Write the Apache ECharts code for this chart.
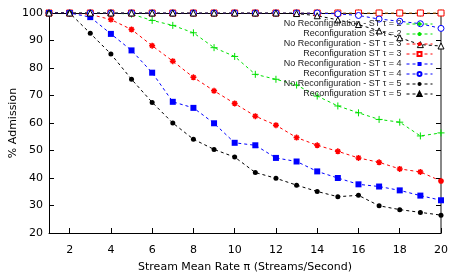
<!DOCTYPE html>
<html><head><meta charset="utf-8">
<script src="https://cdn.jsdelivr.net/npm/echarts@6/dist/echarts.min.js"></script>
<style>html,body{margin:0;padding:0;background:#fff}#c{width:457px;height:274px}</style>
</head><body><div id="c"></div>
<script>
const xValues = [1,2,3,4,5,6,7,8,9,10,11,12,13,14,15,16,17,18,19,20];
const xTicks = [2,4,6,8,10,12,14,16,18,20];
const noReconf2 = [100,100,100,100,99.6,97.3,95.5,92.8,87.4,84.2,77.7,75.9,73.8,69.8,66.2,63.7,61.3,60.3,55.3,56.4];
const reconf2   = [100,100,100,100,100,100,100,100,100,100,100,100,100,100,100,100,100,100,100,100];
const noReconf3 = [100,100,99.5,97.6,94.0,88.1,82.5,76.6,71.7,67.1,62.5,59.2,54.7,51.9,49.7,47.3,45.7,43.3,42.2,38.9];
const reconf3   = [100,100,100,100,100,100,100,100,100,100,100,100,100,100,100,100,100,100,100,100];
const noReconf4 = [100,100,98.5,92.4,86.4,78.3,67.7,65.5,59.9,52.8,51.9,47.3,46.0,42.4,40.0,37.7,36.9,35.5,33.6,31.9];
const reconf4   = [100,100,100,100,100,100,100,100,100,100,100,100,100,100,99.7,99.1,97.8,97.0,96.1,94.4];
const noReconf5 = [100,100,92.6,85.1,75.9,67.5,60.0,54.1,50.4,47.6,42.0,39.9,37.4,35.1,33.2,33.7,29.9,28.5,27.5,26.5];
const reconf5   = [100,100,100,100,100,100,100,100,100,100,100,100,99.8,99.0,97.5,95.8,93.5,91.0,88.5,88.0];
const names = ['No Reconfiguration - ST τ = 2','Reconfiguration ST τ = 2','No Reconfiguration - ST τ = 3','Reconfiguration ST τ = 3','No Reconfiguration - ST τ = 4','Reconfiguration ST τ = 4','No Reconfiguration - ST τ = 5','Reconfiguration ST τ = 5'];

const GREEN = '#00e000', RED = '#ff0000', BLUE = '#0000ff', BLACK = '#000000';
const PLUS = 'path://M0,5L10,5M5,0L5,10';
const STAR = 'path://M0,5L10,5M5,0L5,10M1.5,1.5L8.5,8.5M8.5,1.5L1.5,8.5';
function pair(a){ return xValues.map((x,i)=>[x,a[i]]); }
function mk(name, data, color, symbol, size, fill, stroke){
  return {
    name, type:'line', data: pair(data), symbol, symbolSize:size,
    lineStyle:{color, width:1, type:[3,3]},
    itemStyle:{color: fill, borderColor: color, borderWidth: stroke},
    emphasis:{disabled:true}, animation:false, z:2
  };
}
const series = [
  mk(names[0], noReconf2, GREEN, PLUS, 7, 'rgba(0,0,0,0)', 1),
  mk(names[1], reconf2, GREEN, STAR, 7, 'rgba(0,0,0,0)', 1),
  mk(names[2], noReconf3, RED, STAR, 6, RED, 1.5),
  mk(names[3], reconf3, RED, 'rect', 6, '#fff', 1),
  mk(names[4], noReconf4, BLUE, 'rect', 6, BLUE, 0),
  mk(names[5], reconf4, BLUE, 'circle', 6, '#fff', 1),
  mk(names[6], noReconf5, BLACK, 'circle', 5, BLACK, 0),
  mk(names[7], reconf5, BLACK, 'triangle', 6, '#fff', 1)
];
const font = 'DejaVu Sans';
const chart = echarts.init(document.getElementById('c'), null, {renderer:'canvas'});
chart.setOption({
  animation:false,
  grid:{left:49, right:16, top:13, bottom:41, containLabel:false, outerBoundsMode:'none'},
  legend:{
    data: names, orient:'vertical', right:24, top:19, align:'right',
    itemWidth:26, itemHeight:5, itemGap:0,
    lineStyle:{width:1, type:[3,3]},
    textStyle:{fontFamily:'Liberation Sans', fontSize:9, lineHeight:10, color:'#222', padding:[0,0,0,0]},
    padding:0,
    selectedMode:false
  },
  xAxis:[{
    type:'value', min:1, max:20,
    axisLine:{show:true, lineStyle:{color:'#000', width:1}},
    axisTick:{show:true, inside:true, length:5, customValues:xTicks, lineStyle:{color:'#000'}},
    axisLabel:{customValues:xTicks, fontFamily:font, fontSize:11, color:'#000', margin:12},
    splitLine:{show:false},
    name:'Stream Mean Rate π (Streams/Second)', nameLocation:'middle', nameGap:29,
    nameTextStyle:{fontFamily:font, fontSize:11, color:'#000'}
  },{
    type:'value', min:1, max:20, position:'top',
    axisLine:{show:true, lineStyle:{color:'#000', width:1}},
    axisTick:{show:false}, axisLabel:{show:false}, splitLine:{show:false}
  }],
  yAxis:[{
    type:'value', min:20, max:100, interval:10,
    axisLine:{show:true, lineStyle:{color:'#000', width:1}},
    axisTick:{show:true, inside:true, length:5, lineStyle:{color:'#000'}},
    axisLabel:{fontFamily:font, fontSize:11, color:'#000', margin:6},
    splitLine:{show:false},
    name:'% Admission', nameLocation:'middle', nameGap:30, nameMoveOverlap:false,
    nameTextStyle:{fontFamily:font, fontSize:11, color:'#000'}
  },{
    type:'value', min:20, max:100, interval:10, position:'right',
    axisLine:{show:true, lineStyle:{color:'#888', width:2}},
    axisTick:{show:true, inside:true, length:5, lineStyle:{color:'#000'}},
    axisLabel:{show:false}, splitLine:{show:false}
  }],
  series
});
</script></body></html>
